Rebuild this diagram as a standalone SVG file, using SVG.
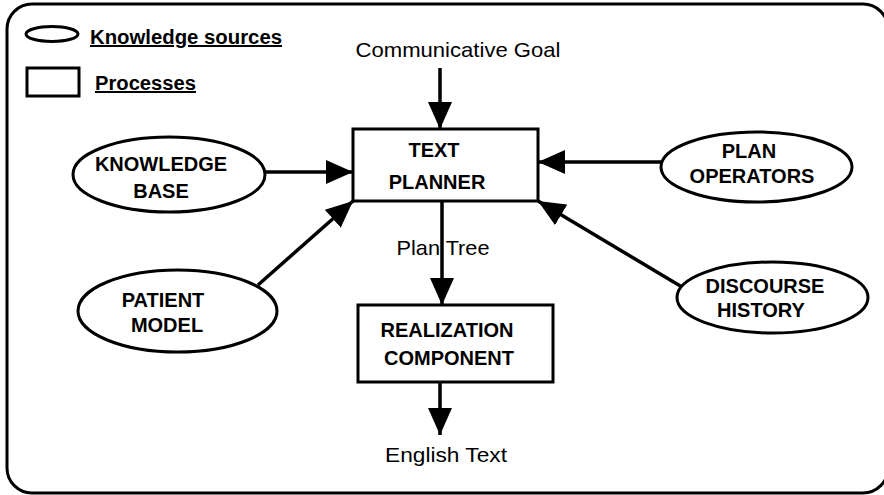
<svg xmlns="http://www.w3.org/2000/svg" width="884" height="495" viewBox="0 0 884 495">
  <style>
    .frame { fill: none; stroke: #000; stroke-width: 3; }
    .shape { fill: #fff; stroke: #000; stroke-width: 3; }
    .bold { font-family: "Liberation Sans", Arial, sans-serif; font-weight: bold; font-size: 20px; fill: #000; text-anchor: middle; }
    .reg { font-family: "Liberation Sans", Arial, sans-serif; font-size: 21px; fill: #000; text-anchor: middle; }
    .legend { font-family: "Liberation Sans", Arial, sans-serif; font-weight: bold; font-size: 20px; fill: #000; text-decoration: underline; }
    .conn { stroke: #000; stroke-width: 3.5; fill: none; marker-end: url(#arrow); }
  </style>
  <defs>
    <marker id="arrow" markerUnits="userSpaceOnUse" markerWidth="28" markerHeight="24" refX="27" refY="12" orient="auto">
      <path d="M0,0 L27,12 L0,24 Z" fill="#000"/>
    </marker>
  </defs>

  <rect width="884" height="495" fill="#fff"/>
  <rect class="frame" x="7" y="4" width="881" height="489" rx="25" ry="25"/>

  <g id="legend">
    <ellipse class="shape" cx="52" cy="34" rx="26" ry="7.5" stroke-width="2.5"/>
    <text class="legend" x="90" y="44" textLength="192" lengthAdjust="spacingAndGlyphs">Knowledge sources</text>
    <rect class="shape" x="27" y="68" width="52" height="28" stroke-width="2.5"/>
    <text class="legend" x="95" y="90" textLength="101" lengthAdjust="spacingAndGlyphs">Processes</text>
  </g>

  <g id="plan-tree-label">
    <text class="reg" x="443" y="255" textLength="93" lengthAdjust="spacingAndGlyphs">Plan Tree</text>
  </g>

  <g id="connectors">
    <line class="conn" x1="440" y1="68" x2="440" y2="129"/>
    <line class="conn" x1="265" y1="172" x2="353" y2="172"/>
    <line class="conn" x1="258" y1="285" x2="353" y2="201"/>
    <line class="conn" x1="661" y1="162" x2="538" y2="162"/>
    <line class="conn" x1="682" y1="287" x2="538" y2="201"/>
    <line class="conn" x1="442" y1="201" x2="442" y2="305"/>
    <line class="conn" x1="440" y1="382" x2="440" y2="435"/>
  </g>

  <g id="goal">
    <text class="reg" x="458" y="57" textLength="205" lengthAdjust="spacingAndGlyphs">Communicative Goal</text>
  </g>

  <g id="text-planner">
    <rect class="shape" x="353" y="129" width="185" height="72"/>
    <text class="bold" x="434" y="157">TEXT</text>
    <text class="bold" x="437" y="189">PLANNER</text>
  </g>

  <g id="knowledge-base">
    <ellipse class="shape" cx="169" cy="174.5" rx="96" ry="37.5"/>
    <text class="bold" x="161" y="171">KNOWLEDGE</text>
    <text class="bold" x="161" y="198">BASE</text>
  </g>

  <g id="patient-model">
    <ellipse class="shape" cx="177.5" cy="311" rx="99.5" ry="41"/>
    <text class="bold" x="163" y="307">PATIENT</text>
    <text class="bold" x="167" y="332">MODEL</text>
  </g>

  <g id="plan-operators">
    <ellipse class="shape" cx="756.5" cy="167" rx="95.5" ry="35"/>
    <text class="bold" x="749" y="158">PLAN</text>
    <text class="bold" x="752" y="183">OPERATORS</text>
  </g>

  <g id="discourse-history">
    <ellipse class="shape" cx="772.5" cy="297.5" rx="95.5" ry="35.5"/>
    <text class="bold" x="765" y="293">DISCOURSE</text>
    <text class="bold" x="761" y="317">HISTORY</text>
  </g>

  <g id="realization-component">
    <rect class="shape" x="358" y="305" width="195" height="77"/>
    <text class="bold" x="447" y="337">REALIZATION</text>
    <text class="bold" x="449" y="365">COMPONENT</text>
  </g>

  <g id="english-text">
    <text class="reg" x="446" y="462" textLength="122" lengthAdjust="spacingAndGlyphs">English Text</text>
  </g>
</svg>
